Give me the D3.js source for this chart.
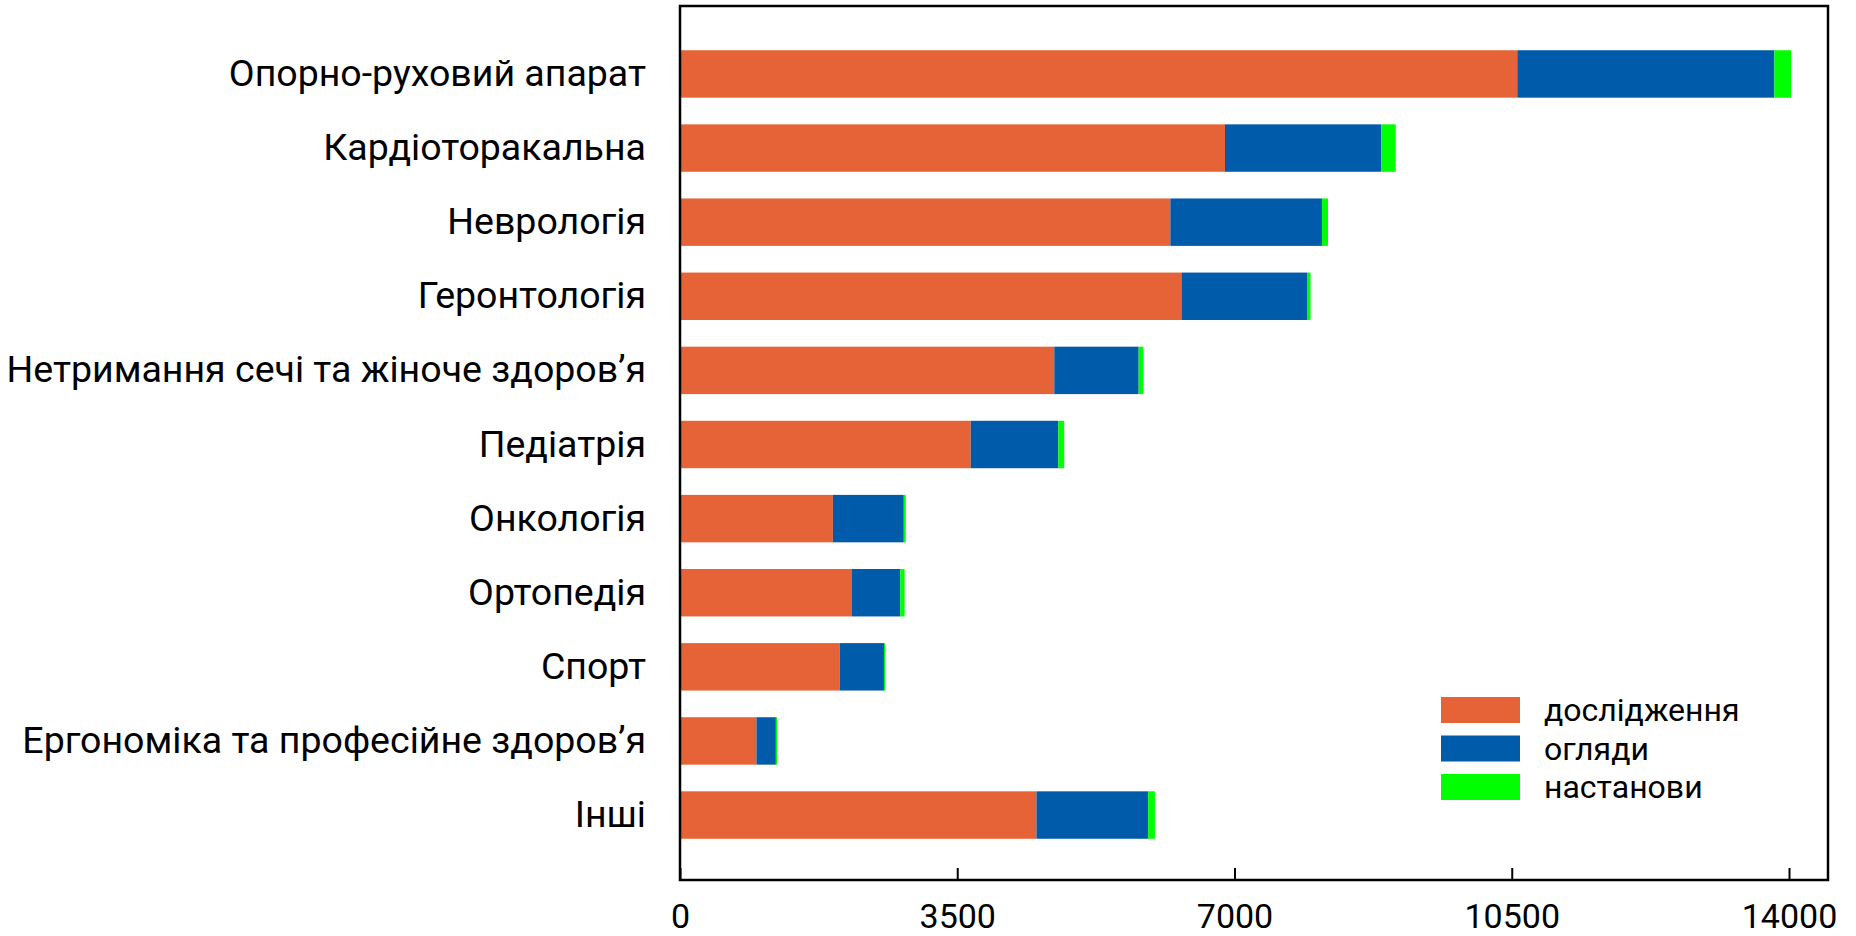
<!DOCTYPE html>
<html>
<head>
<meta charset="utf-8">
<script src="https://cdn.jsdelivr.net/npm/d3@7"></script>
<style>
  body { margin: 0; background: #fff; }
  text { font-family: Roboto, "Noto Sans", sans-serif; fill: #000; }
</style>
</head>
<body>
<div id="chart"></div>
<script>
var categories = [
    "Опорно-руховий апарат",
    "Кардіоторакальна",
    "Неврологія",
    "Геронтологія",
    "Нетримання сечі та жіноче здоров’я",
    "Педіатрія",
    "Онкологія",
    "Ортопедія",
    "Спорт",
    "Ергономіка та професійне здоров’я",
    "Інші"
];
var research = [10570, 6880, 6190, 6330, 4725, 3670, 1930, 2165, 2015, 965, 4500];
var reviews = [3245, 1975, 1915, 1585, 1065, 1105, 895, 615, 560, 245, 1410];
var guidelines = [210, 180, 75, 45, 60, 75, 25, 55, 15, 15, 85];
var seriesNames = ["дослідження", "огляди", "настанови"];
var seriesColors = ["#e66337", "#005baa", "#00ff00"];
var xTicks = [0, 3500, 7000, 10500, 14000];

var svgWidth = 1856;
var svgHeight = 936;

var margin = {
    top : 6,
    right : 28,
    bottom : 56,
    left : 680
}

var width = svgWidth - margin.left - margin.right;
var height = svgHeight - margin.bottom - margin.top;

var svg = d3.select("#chart")
    .append("svg")
    .attr("width", svgWidth)
    .attr("height", svgHeight);

var chartGroup = svg.append("g")
    .attr("transform", `translate(${margin.left}, ${margin.top})`);

// build rows for the stack
var rows = categories.map(function(c, i){
    return {cat: c, s0: research[i], s1: reviews[i], s2: guidelines[i]};
});
var stack = d3.stack().keys(["s0", "s1", "s2"]);
var layers = stack(rows);

// scales
var xLinearScale = d3.scaleLinear()
    .domain([0, 14000])
    .range([0, 1109]);

var yBandScale = d3.scaleBand()
    .domain(categories)
    .range([2, height + 1])
    .paddingInner(0.36)
    .paddingOuter(0.57);

// bars
chartGroup.selectAll(".layer")
    .data(layers)
    .enter()
    .append("g")
    .attr("class", "layer")
    .attr("fill", (d, i) => seriesColors[i])
    .selectAll("rect")
    .data(d => d)
    .enter()
    .append("rect")
    .attr("x", d => xLinearScale(d[0]))
    .attr("y", d => yBandScale(d.data.cat))
    .attr("width", d => xLinearScale(d[1]) - xLinearScale(d[0]))
    .attr("height", yBandScale.bandwidth());

// frame
chartGroup.append("rect")
    .attr("x", 0)
    .attr("y", 0)
    .attr("width", width)
    .attr("height", height)
    .attr("fill", "none")
    .attr("stroke", "#000")
    .attr("stroke-width", 2.5);

// bottom axis, ticks pointing inward
var bottomAxis = d3.axisBottom(xLinearScale)
    .tickValues(xTicks)
    .tickSizeInner(-12)
    .tickSizeOuter(0)
    .tickPadding(24)
    .tickFormat(d3.format("d"));

var xAxis = chartGroup.append("g")
    .attr("transform", `translate(0,${height})`)
    .call(bottomAxis);
xAxis.select(".domain").remove();
xAxis.selectAll("line").attr("stroke", "#000").attr("stroke-width", 2);
xAxis.selectAll("text")
    .attr("font-family", "Roboto")
    .attr("font-size", 34)
    .attr("fill", "#000")
    .attr("dy", "0.71em");

// category labels
var leftAxis = d3.axisLeft(yBandScale)
    .tickSize(0)
    .tickPadding(34);
var yAxis = chartGroup.append("g")
    .call(leftAxis);
yAxis.select(".domain").remove();
yAxis.selectAll("text")
    .attr("font-family", "Roboto")
    .attr("font-size", 37.5)
    .attr("fill", "#000");

// legend
var legend = svg.append("g")
    .attr("transform", "translate(1441, 697)");

var legendItems = legend.selectAll(".item")
    .data(seriesNames)
    .enter()
    .append("g")
    .attr("class", "item")
    .attr("transform", (d, i) => `translate(0, ${i * 38.5})`);

legendItems.append("rect")
    .attr("width", 79)
    .attr("height", 26)
    .attr("fill", (d, i) => seriesColors[i]);

legendItems.append("text")
    .attr("x", 103)
    .attr("y", 13)
    .attr("dy", "0.35em")
    .attr("font-size", 32)
    .text(d => d);
</script>
</body>
</html>
